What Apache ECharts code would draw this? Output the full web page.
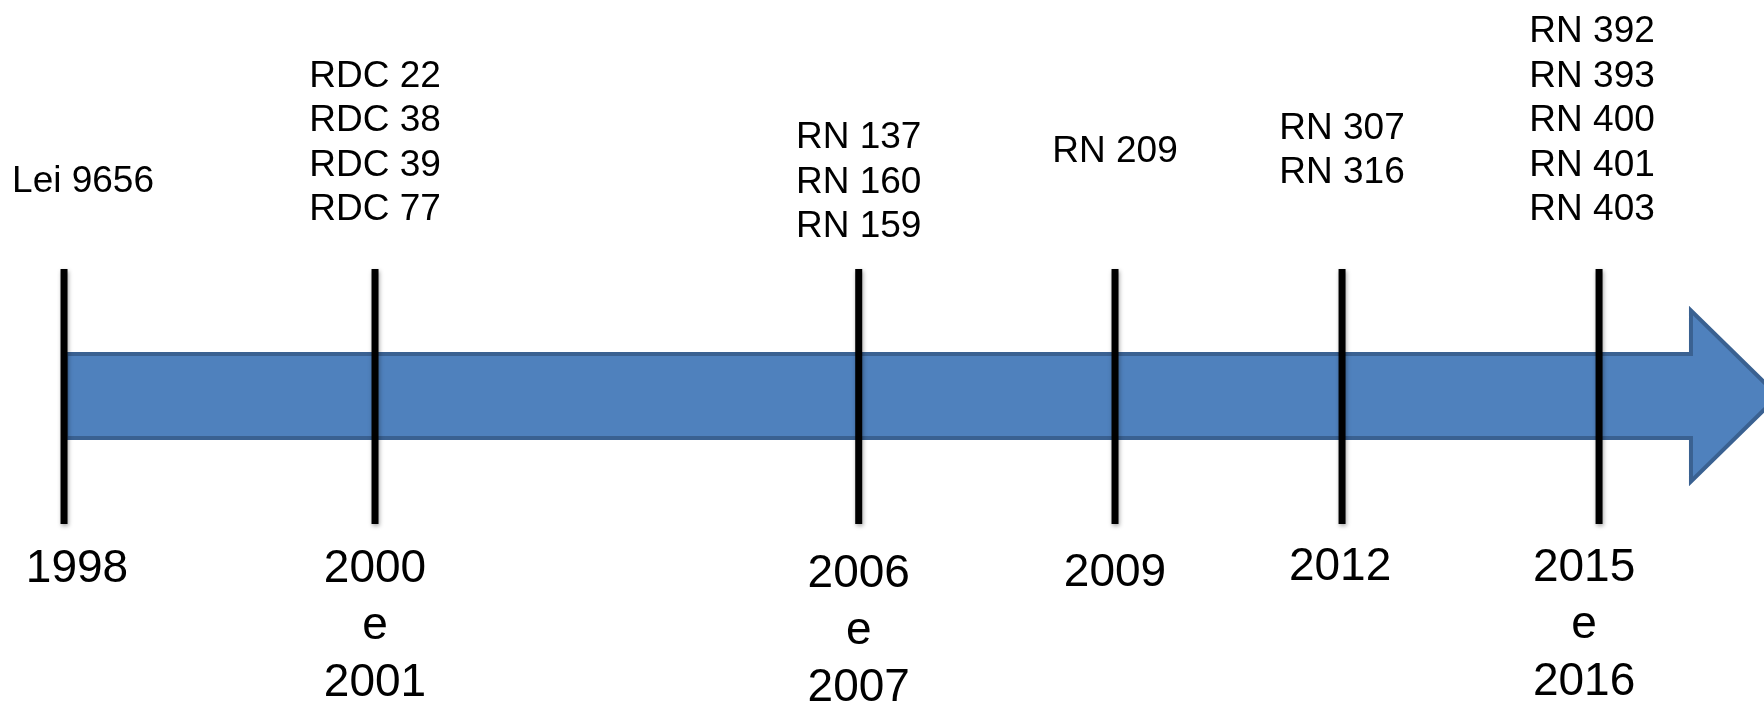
<!DOCTYPE html>
<html>
<head>
<meta charset="utf-8">
<script src="https://cdn.jsdelivr.net/npm/echarts@6/dist/echarts.min.js"></script>
<style>
html,body{margin:0;padding:0;background:#ffffff;}
#chart{width:1764px;height:703px;}
</style>
</head>
<body>
<div id="chart"></div>
<script>
// ---- DATA ----
// position of each milestone along the timeline (percent of the timeline width)
const eventPositions = [3.63, 21.26, 48.68, 63.21, 76.08, 90.65];
// year labels under each milestone
const yearLabels = [
  ['1998'],
  ['2000', 'e', '2001'],
  ['2006', 'e', '2007'],
  ['2009'],
  ['2012'],
  ['2015', 'e', '2016']
];
// regulations above each milestone
const normLabels = [
  ['Lei 9656'],
  ['RDC 22', 'RDC 38', 'RDC 39', 'RDC 77'],
  ['RN 137', 'RN 160', 'RN 159'],
  ['RN 209'],
  ['RN 307', 'RN 316'],
  ['RN 392', 'RN 393', 'RN 400', 'RN 401', 'RN 403']
];
// arrow extent along the timeline: body start, head start, tip
const arrowExtent = [3.75, 95.86, 100.8];

// ---- LAYOUT / STYLE (pixels relative to the arrow centre line) ----
const FONT = '"Liberation Sans", Arial, Helvetica, sans-serif';
const TOP_FS = 37, TOP_LH = 44.5;
const YEAR_FS = 46, YEAR_LH = 56.7;
const LINE_TOP = -127, LINE_BOTTOM = 128, LINE_W = 7;
const topLastBaseline = [-204, -176, -159, -234, -213, -176];
const topDx = [19, 0, 0, 0, 0, -7];
const yearFirstBaseline = [186, 186, 191, 190, 184, 185];
const yearDx = [13, 0, 0, 0, -2, -15];
const BODY_HALF = 42, HEAD_HALF = 85.5;
const MID_K = 0.27;

function textEl(x, baseline, str, fs) {
  return {
    type: 'text',
    x: x,
    y: baseline - MID_K * fs,
    style: {
      text: str,
      fill: '#000000',
      font: fs + 'px ' + FONT,
      align: 'center',
      verticalAlign: 'middle',
      textAlign: 'center',
      textVerticalAlign: 'middle'
    }
  };
}

const chart = echarts.init(document.getElementById('chart'), null, {renderer: 'canvas'});
chart.setOption({
  animation: false,
  backgroundColor: '#ffffff',
  grid: {left: 0, right: 0, top: 89, bottom: 0},
  xAxis: {type: 'value', min: 0, max: 100, show: false},
  yAxis: {type: 'value', min: -1, max: 1, show: false},
  series: [
    {
      type: 'custom',
      silent: true,
      clip: false,
      data: [arrowExtent],
      renderItem: function (params, api) {
        const a = api.coord([api.value(0), 0]);
        const h = api.coord([api.value(1), 0]);
        const t = api.coord([api.value(2), 0]);
        const cy = a[1];
        return {
          type: 'polygon',
          shape: {
            points: [
              [a[0], cy - BODY_HALF], [h[0], cy - BODY_HALF], [h[0], cy - HEAD_HALF],
              [t[0], cy], [h[0], cy + HEAD_HALF], [h[0], cy + BODY_HALF], [a[0], cy + BODY_HALF]
            ]
          },
          style: {fill: '#4f81bd', stroke: '#3a6191', lineWidth: 4, lineJoin: 'miter'}
        };
      }
    },
    {
      type: 'custom',
      silent: true,
      clip: false,
      data: eventPositions.map(function (p, i) { return [p, i]; }),
      renderItem: function (params, api) {
        const i = params.dataIndex;
        const c = api.coord([api.value(0), 0]);
        const cx = c[0], cy = c[1];
        const children = [];
        children.push({
          type: 'rect',
          shape: {x: cx - LINE_W / 2, y: cy + LINE_TOP, width: LINE_W, height: LINE_BOTTOM - LINE_TOP},
          style: {fill: '#000000', shadowBlur: 4, shadowColor: 'rgba(0,0,0,0.35)', shadowOffsetX: 1, shadowOffsetY: 2}
        });
        const tl = normLabels[i];
        const n = tl.length;
        tl.forEach(function (s, k) {
          children.push(textEl(cx + topDx[i], cy + topLastBaseline[i] - (n - 1 - k) * TOP_LH, s, TOP_FS));
        });
        yearLabels[i].forEach(function (s, k) {
          children.push(textEl(cx + yearDx[i], cy + yearFirstBaseline[i] + k * YEAR_LH, s, YEAR_FS));
        });
        return {type: 'group', children: children};
      }
    }
  ]
});
</script>
</body>
</html>
